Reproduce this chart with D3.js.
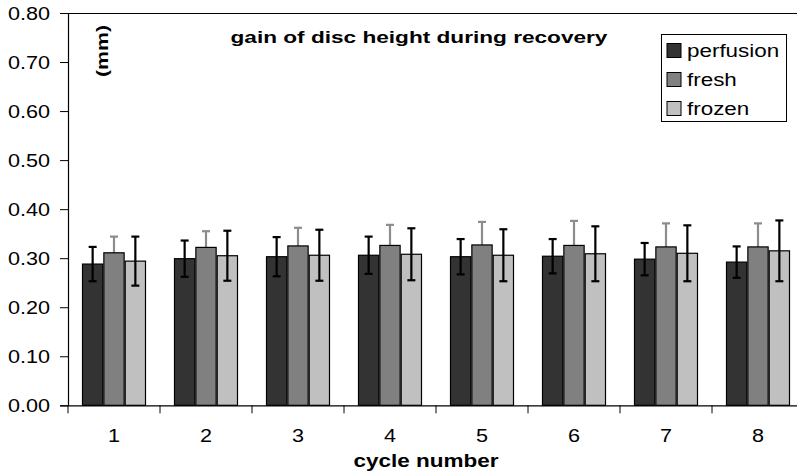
<!DOCTYPE html>
<html>
<head>
<meta charset="utf-8">
<script src="https://cdn.jsdelivr.net/npm/d3@7"></script>
<style>
	body { margin: 0; background: #fff; }
	svg { display: block; font-family: "Liberation Sans", Arial, sans-serif; }
</style>
</head>
<body>
<div id="vis_container"></div>
<script>
// chart data
var cycles = ["1", "2", "3", "4", "5", "6", "7", "8"];
var seriesNames = ["perfusion", "fresh", "frozen"];
var perfusion = [0.288, 0.299, 0.303, 0.306, 0.303, 0.304, 0.298, 0.292];
var fresh = [0.311, 0.322, 0.325, 0.326, 0.327, 0.326, 0.323, 0.323];
var frozen = [0.294, 0.305, 0.306, 0.308, 0.306, 0.309, 0.310, 0.315];
var perfusionErr = [0.035, 0.037, 0.040, 0.038, 0.036, 0.035, 0.033, 0.032];
var freshErr = [0.033, 0.033, 0.037, 0.042, 0.047, 0.050, 0.048, 0.048];
var frozenErr = [0.050, 0.051, 0.052, 0.053, 0.053, 0.056, 0.057, 0.062];
var yTicks = [0, 0.1, 0.2, 0.3, 0.4, 0.5, 0.6, 0.7, 0.8];

var chart = {};
chart.width = 797;
chart.height = 472;
chart.margin = {"top": 13, "left": 68, "right": -7, "bottom": 67};
chart.colors = ["#333333", "#808080", "#c0c0c0"];
chart.errColors = ["#000000", "#8c8c8c", "#000000"];
chart.font = "Liberation Sans, Arial, sans-serif";

var values = [perfusion, fresh, frozen];
var errors = [perfusionErr, freshErr, frozenErr];

var rows = [];
cycles.forEach(function(c, i) {
	seriesNames.forEach(function(s, j) {
		rows.push({cycle: c, series: s, j: j, value: values[j][i], err: errors[j][i]});
	});
});

chart.svg = d3.select("#vis_container").append("svg")
	.attr("width", chart.width)
	.attr("height", chart.height);

var x0 = chart.margin.left;
var x1 = chart.width - chart.margin.right;
var yTop = chart.margin.top;
var yBot = chart.height - chart.margin.bottom + 0.3;

chart.xScale = d3.scaleBand()
	.domain(cycles)
	.range([x0, x1]);

chart.inner = d3.scaleBand()
	.domain(seriesNames)
	.range([0, 63])
	.paddingInner(0.05);

chart.yScale = d3.scaleLinear()
	.domain([0, 0.8])
	.range([yBot, yTop]);

// stretch text horizontally the way the original renderer did
function widen(sel, k) {
	sel.each(function() {
		var w = this.getComputedTextLength();
		d3.select(this).attr("textLength", w * k).attr("lengthAdjust", "spacingAndGlyphs");
	});
}

// top frame line
chart.svg.append("line")
	.attr("x1", x0).attr("x2", x1)
	.attr("y1", yTop + 0.5).attr("y2", yTop + 0.5)
	.attr("stroke", "#000").attr("stroke-width", 1);

var offset = (chart.xScale.bandwidth() - 63) / 2;
function cx(d) { return chart.xScale(d.cycle) + offset + chart.inner(d.series) + chart.inner.bandwidth() / 2; }

function drawErrors(data) {
	var eb = chart.svg.selectAll(null)
		.data(data)
		.enter().append("g")
		.attr("class", "err")
		.attr("stroke", function(d) { return chart.errColors[d.j]; })
		.attr("stroke-width", 2.2);
	eb.append("line")
		.attr("x1", cx).attr("x2", cx)
		.attr("y1", function(d) { return chart.yScale(d.value + d.err); })
		.attr("y2", function(d) { return chart.yScale(d.value - d.err); });
	eb.append("line")
		.attr("x1", function(d) { return cx(d) - 4; }).attr("x2", function(d) { return cx(d) + 4; })
		.attr("y1", function(d) { return chart.yScale(d.value + d.err); })
		.attr("y2", function(d) { return chart.yScale(d.value + d.err); });
	eb.append("line")
		.attr("x1", function(d) { return cx(d) - 4; }).attr("x2", function(d) { return cx(d) + 4; })
		.attr("y1", function(d) { return chart.yScale(d.value - d.err); })
		.attr("y2", function(d) { return chart.yScale(d.value - d.err); });
}

// fresh error bars sit behind the bars (lower half hidden)
drawErrors(rows.filter(function(d) { return d.j == 1; }));

// bars
chart.svg.selectAll(".bar")
	.data(rows)
	.enter().append("rect")
	.attr("class", "bar")
	.attr("x", function(d) { return chart.xScale(d.cycle) + offset + chart.inner(d.series); })
	.attr("y", function(d) { return chart.yScale(d.value); })
	.attr("width", chart.inner.bandwidth())
	.attr("height", function(d) { return yBot - chart.yScale(d.value); })
	.attr("fill", function(d) { return chart.colors[d.j]; })
	.attr("stroke", "#000")
	.attr("stroke-width", 1.2);

drawErrors(rows.filter(function(d) { return d.j != 1; }));

// y axis
var yAxis = chart.svg.append("g")
	.attr("transform", "translate(" + x0 + ",0)")
	.call(d3.axisLeft(chart.yScale).tickValues(yTicks).tickFormat(d3.format(".2f")).tickSizeOuter(0).tickSize(8).tickPadding(10));
yAxis.selectAll("text").attr("font-size", 18).attr("fill", "#000").attr("font-family", chart.font).attr("dy", "0.34em");
yAxis.select(".domain").attr("stroke-width", 1.2);
widen(yAxis.selectAll("text"), 1.2);

// x axis
var xAxis = chart.svg.append("g")
	.attr("transform", "translate(0," + yBot + ")")
	.call(d3.axisBottom(chart.xScale).tickSize(0).tickPadding(24));
xAxis.select(".domain").attr("stroke-width", 1.2);
xAxis.selectAll("text").attr("font-size", 18).attr("fill", "#000").attr("font-family", chart.font);
widen(xAxis.selectAll("text"), 1.2);
// boundary ticks between categories
xAxis.selectAll(".sep")
	.data(cycles)
	.enter().append("line")
	.attr("class", "sep")
	.attr("x1", function(d) { return chart.xScale(d); })
	.attr("x2", function(d) { return chart.xScale(d); })
	.attr("y1", 0).attr("y2", 8)
	.attr("stroke", "#000");

// titles
var title = chart.svg.append("text")
	.attr("x", 419).attr("y", 43)
	.attr("text-anchor", "middle")
	.attr("font-size", 17).attr("font-weight", "bold")
	.text("gain of disc height during recovery");
widen(title, 1.33);

var unit = chart.svg.append("text")
	.attr("transform", "translate(108,51) rotate(-90)")
	.attr("text-anchor", "middle")
	.attr("font-size", 17).attr("font-weight", "bold")
	.text("(mm)");
widen(unit, 1.25);

var xTitle = chart.svg.append("text")
	.attr("x", 426).attr("y", 467)
	.attr("text-anchor", "middle")
	.attr("font-size", 18).attr("font-weight", "bold")
	.text("cycle number");
widen(xTitle, 1.25);

// legend
var legend = chart.svg.append("g").attr("transform", "translate(661,34)");
legend.append("rect")
	.attr("x", 0.5).attr("y", 0.5)
	.attr("width", 125).attr("height", 87)
	.attr("fill", "#fff").attr("stroke", "#000");
var li = legend.selectAll(".li")
	.data(seriesNames)
	.enter().append("g")
	.attr("class", "li")
	.attr("transform", function(d, i) { return "translate(6," + (9.5 + i * 29) + ")"; });
li.append("rect")
	.attr("width", 14).attr("height", 14)
	.attr("fill", function(d, i) { return chart.colors[i]; })
	.attr("stroke", "#000");
li.append("text")
	.attr("x", 20).attr("y", 13.5)
	.attr("font-size", 17.5)
	.text(function(d) { return d; });
widen(li.selectAll("text"), 1.28);
</script>
</body>
</html>
